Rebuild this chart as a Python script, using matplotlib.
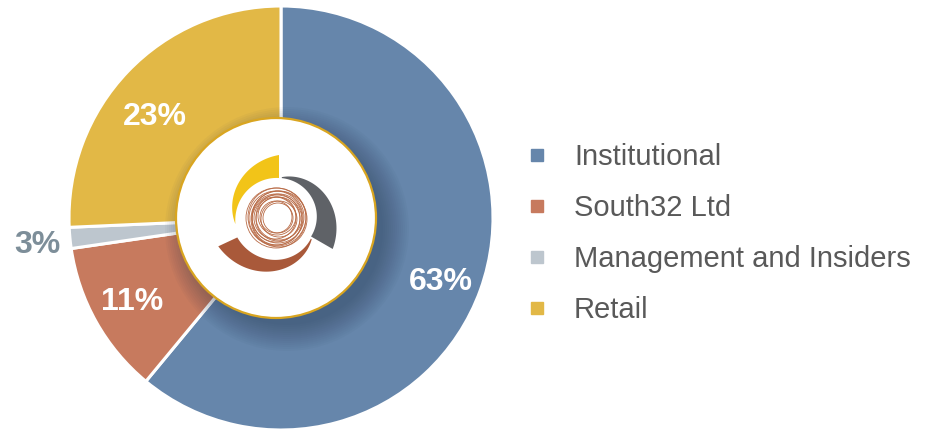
import numpy as np
import matplotlib.pyplot as plt
from matplotlib.patches import Circle, Polygon
from matplotlib.lines import Line2D

# shareholder split, as drawn in the picture (wedge sizes)
categories = ["Institutional", "South32 Ltd", "Management and Insiders", "Retail"]
shares = [61.0, 11.7, 1.6, 25.7]
share_labels = ["63%", "11%", "3%", "23%"]
colors = ["#6686AB", "#C77A5E", "#BDC6CE", "#E2B846"]
label_colors = ["white", "white", "#7D8E99", "white"]
label_dist = [172, 171, 245, 162]
label_nudge = [-2, 0, 1, 5]  # degrees

W, H = 928, 429
fig = plt.figure(figsize=(W / 100, H / 100), dpi=100)
ax = fig.add_axes([0, 0, 1, 1])
plt.rcParams['font.family'] = ['Liberation Sans', 'DejaVu Sans']

cx, cy, R = 281, 211, 212
wedges, _ = ax.pie(shares, colors=colors, startangle=90, counterclock=False,
                   center=(cx, cy), radius=R,
                   wedgeprops=dict(width=125, edgecolor="white", linewidth=2.2))

# percent labels at the wedge middles
for w, txt, col, d, nd in zip(wedges, share_labels, label_colors, label_dist, label_nudge):
    mid = np.deg2rad((w.theta1 + w.theta2) / 2 + nd)
    ax.text(cx + d * np.cos(mid), cy + d * np.sin(mid), txt, color=col,
            fontsize=23, fontweight="bold", ha="center", va="center")

# soft drop shadow under the centre disc (towards lower right)
ccx, ccy, cr = 276, 211, 100
for r in np.linspace(96, 122, 14):
    ax.add_patch(Circle((ccx + 11, ccy - 11), r, color="#22324a", alpha=0.03, lw=0))
ax.add_patch(Circle((ccx, ccy), cr, facecolor="white", edgecolor="#D9A520", lw=1.6))


# logo: three tapered arcs and a copper scribble ring
def arc(lx, ly, a0, a1, ro0, ro1, ri0, ri1, col):
    t = np.linspace(0, 1, 60)
    a = np.deg2rad(a0 + (a1 - a0) * t)
    ro = ro0 + (ro1 - ro0) * t
    ri = ri0 + (ri1 - ri0) * t
    xs = np.concatenate([lx + ro * np.cos(a), (lx + ri * np.cos(a))[::-1]])
    ys = np.concatenate([ly + ro * np.sin(a), (ly + ri * np.sin(a))[::-1]])
    ax.add_patch(Polygon(np.column_stack([xs, ys]), closed=True, color=col, lw=0))


lx, ly = 279, 211
arc(lx, ly, 90, 188, 63, 44, 40, 44, "#F2C418")
arc(lx, ly, 86, -30, 41, 62, 40, 37, "#5F6267")
arc(lx, ly, -33, -155, 39, 67, 38, 46, "#A9593A")

ring_r = [15, 16, 18, 19, 21, 22, 23, 24, 25, 26, 27, 28, 29, 30]
ring_dx = [1, -1, 2, 0, -2, 1, 2, -1, 0, 1, -1, 2, 0, -1]
ring_dy = [0, 1, -1, 2, 0, -1, 1, 0, -2, 1, 0, -1, 1, 0]
for r, dx, dy in zip(ring_r, ring_dx, ring_dy):
    ax.add_patch(Circle((lx - 2 + dx, ly + dy), r, fill=False, edgecolor="#B86A45", lw=0.6))

ax.set_xlim(0, W)
ax.set_ylim(0, H)
ax.set_aspect("equal")
ax.axis("off")

handles = [Line2D([], [], marker="s", linestyle="none", markersize=8,
                  markerfacecolor=c, markeredgecolor=c) for c in colors]
leg = fig.legend(handles, categories, loc="center left", bbox_to_anchor=(526 / W, 0.4555),
                 frameon=False, fontsize=21, handlelength=0.75, handletextpad=0.9,
                 labelspacing=0.79, borderpad=0, borderaxespad=0)
for t in leg.get_texts():
    t.set_color("#595959")

fig.savefig("out.png", dpi=100)
